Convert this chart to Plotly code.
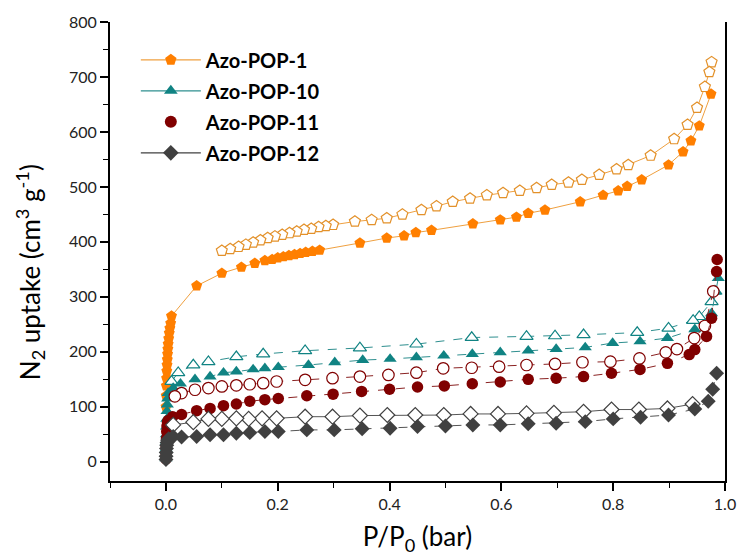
import plotly.graph_objects as go

# ---- N2 isotherms at 77 K: adsorption (filled) and desorption (open) ----
pop1_ads_p = [0.0002, 0.0005, 0.0008, 0.0012, 0.0016, 0.002, 0.0025, 0.003, 0.0035, 0.004,
              0.005, 0.006, 0.007, 0.0085, 0.01, 0.055, 0.1, 0.135, 0.159, 0.177, 0.19, 0.2,
              0.21, 0.22, 0.23, 0.24, 0.25, 0.262, 0.275, 0.347, 0.395, 0.426, 0.447, 0.475,
              0.549, 0.598, 0.627, 0.648, 0.678, 0.741, 0.782, 0.809, 0.825, 0.851, 0.899,
              0.925, 0.939, 0.954, 0.975]
pop1_ads_v = [100, 120, 138, 152, 165, 176, 186, 196, 205, 214, 224, 234, 243, 252, 265, 320,
              343, 354, 361, 366, 368, 371, 373, 375, 377, 379, 381, 383, 385, 398, 407, 411,
              417, 421, 433, 440, 445, 452, 458, 473, 485, 493, 501, 513, 540, 564, 584, 611, 669]
pop1_des_p = [0.976, 0.972, 0.964, 0.95, 0.933, 0.909, 0.867, 0.827, 0.806, 0.775, 0.744, 0.72,
              0.69, 0.663, 0.633, 0.603, 0.574, 0.544, 0.513, 0.484, 0.457, 0.423, 0.395, 0.368,
              0.338, 0.299, 0.286, 0.273, 0.26, 0.247, 0.234, 0.221, 0.208, 0.195, 0.182, 0.169,
              0.156, 0.143, 0.13, 0.115, 0.1]
pop1_des_v = [727, 709, 682, 644, 613, 587, 557, 540, 532, 522, 513, 508, 504, 498, 493, 489,
              485, 479, 473, 465, 458, 450, 443, 440, 437, 431, 429, 427, 424, 422, 419, 416,
              413, 410, 407, 403, 399, 395, 391, 387, 384]

pop10_ads_p = [0.0001, 0.0002, 0.0004, 0.0006, 0.0009, 0.0012, 0.0016, 0.002, 0.0025, 0.0032,
               0.004, 0.013, 0.026, 0.052, 0.079, 0.103, 0.126, 0.156, 0.177, 0.201, 0.255,
               0.302, 0.352, 0.401, 0.448, 0.497, 0.548, 0.598, 0.648, 0.698, 0.75, 0.799,
               0.848, 0.897, 0.946, 0.976, 0.984, 0.988]
pop10_ads_v = [6, 14, 24, 36, 50, 64, 78, 92, 104, 115, 125, 134, 142, 150, 155, 162, 164, 168,
               170, 172, 176, 181, 185, 187, 190, 193, 196, 199, 202, 205, 208, 216, 219, 225,
               241, 270, 310, 334]
pop10_des_p = [0.982, 0.976, 0.954, 0.943, 0.899, 0.843, 0.747, 0.696, 0.645, 0.547, 0.448,
               0.347, 0.249, 0.174, 0.126, 0.076, 0.049, 0.022, 0.01]
pop10_des_v = [310, 291, 264, 257, 243, 235, 231, 229, 228, 226, 214, 207, 202, 196, 191, 182,
               176, 162, 146]

pop11_ads_p = [0.0001, 0.0003, 0.0006, 0.001, 0.0015, 0.002, 0.003, 0.004, 0.012, 0.028, 0.055,
               0.079, 0.103, 0.126, 0.15, 0.177, 0.201, 0.252, 0.299, 0.35, 0.4, 0.45, 0.498,
               0.548, 0.598, 0.648, 0.698, 0.747, 0.797, 0.848, 0.897, 0.936, 0.946, 0.967,
               0.976, 0.985, 0.986]
pop11_ads_v = [5, 15, 28, 42, 55, 65, 72, 75, 82, 86, 93, 97, 102, 105, 110, 113, 115, 120, 123,
               128, 132, 136, 138, 142, 145, 150, 152, 155, 161, 168, 179, 195, 204, 228, 261,
               346, 368]
pop11_des_p = [0.979, 0.964, 0.945, 0.914, 0.894, 0.847, 0.795, 0.745, 0.696, 0.645, 0.596,
               0.547, 0.496, 0.448, 0.398, 0.347, 0.298, 0.249, 0.198, 0.174, 0.15, 0.126, 0.1,
               0.076, 0.052, 0.028, 0.016]
pop11_des_v = [310, 247, 225, 205, 199, 188, 182, 181, 178, 176, 173, 171, 170, 162, 158, 155,
               152, 149, 146, 143, 141, 139, 137, 134, 131, 125, 119]

pop12_ads_p = [0.0001, 0.0003, 0.0006, 0.001, 0.0015, 0.002, 0.003, 0.005, 0.013, 0.028, 0.055,
               0.079, 0.103, 0.126, 0.15, 0.177, 0.201, 0.252, 0.301, 0.351, 0.401, 0.45, 0.5,
               0.549, 0.598, 0.648, 0.698, 0.75, 0.8, 0.849, 0.899, 0.946, 0.97, 0.978, 0.985]
pop12_ads_v = [4, 10, 17, 24, 30, 35, 39, 42, 46, 45, 46, 49, 49, 52, 53, 55, 55, 58, 58, 60, 61,
               64, 65, 67, 67, 69, 70, 73, 78, 81, 85, 96, 110, 132, 161]
pop12_des_p = [0.942, 0.897, 0.846, 0.797, 0.747, 0.694, 0.645, 0.594, 0.545, 0.497, 0.446,
               0.396, 0.347, 0.298, 0.249, 0.198, 0.172, 0.148, 0.126, 0.1, 0.076, 0.049, 0.013]
pop12_des_v = [105, 97, 95, 95, 91, 89, 88, 87, 87, 85, 85, 85, 84, 82, 82, 79, 79, 78, 79, 78,
               78, 72, 67]

x_ticks = [0.0, 0.2, 0.4, 0.6, 0.8, 1.0]
x_tick_text = ["0.0", "0.2", "0.4", "0.6", "0.8", "1.0"]
y_ticks = [0, 100, 200, 300, 400, 500, 600, 700, 800]

names = ["Azo-POP-1", "Azo-POP-10", "Azo-POP-11", "Azo-POP-12"]
x_title = "P/P<sub>0</sub> (bar)"
y_title = "N<sub>2</sub> uptake (cm<sup>3</sup> g<sup>-1</sup>)"

series = [
    # name, ads p, ads v, des p, des v, symbol, fill colour, outline, line colour, dashes
    (names[0], pop1_ads_p, pop1_ads_v, pop1_des_p, pop1_des_v, "pentagon",
     "#FF7F00", "#E3912A", "#EFA040", "solid", "solid"),
    (names[1], pop10_ads_p, pop10_ads_v, pop10_des_p, pop10_des_v, "triangle-up",
     "#108383", "#108383", "#2E8F8F", "dash", "dash"),
    (names[2], pop11_ads_p, pop11_ads_v, pop11_des_p, pop11_des_v, "circle",
     "#800000", "#800000", "#8A2222", "dash", "dash"),
    (names[3], pop12_ads_p, pop12_ads_v, pop12_des_p, pop12_des_v, "diamond",
     "#404040", "#404040", "#555555", "dash", "solid"),
]

fig = go.Figure()

for name, ap, av, dp, dv, sym, fill, outline, lcol, adash, ddash in series:
    # desorption branch: open markers with white interior
    fig.add_trace(go.Scatter(
        x=dp, y=dv, mode="lines+markers", showlegend=False,
        line=dict(color=lcol, width=1, dash=ddash),
        marker=dict(symbol=sym, size=11.5, color="white",
                    line=dict(color=outline, width=1.2)),
    ))
    # adsorption branch: filled markers
    fig.add_trace(go.Scatter(
        x=ap, y=av, mode="lines+markers", showlegend=False,
        line=dict(color=lcol, width=1, dash=adash),
        marker=dict(symbol=sym, size=11.5, color=fill, line=dict(width=0)),
    ))

# legend entries
legend_modes = ["lines+markers", "lines+markers", "markers", "lines+markers"]
for i, (name, ap, av, dp, dv, sym, fill, outline, lcol, adash, ddash) in enumerate(series):
    fig.add_trace(go.Scatter(
        x=[None], y=[None], name=name, mode=legend_modes[i], legendgroup=name,
        line=dict(color=lcol if i != 3 else "#404040", width=1.2, dash="solid"),
        marker=dict(symbol=sym, size=12, color=fill, line=dict(width=0)),
    ))

axis_font = dict(family="Lato, 'Open Sans', sans-serif", size=16, color="#222222")
title_font = dict(family="Lato, 'Open Sans', sans-serif", size=26, color="black")

fig.update_layout(
    width=737, height=559,
    margin=dict(l=110, r=12, t=22, b=78),
    paper_bgcolor="white", plot_bgcolor="white",
    font=dict(family="Lato, 'Open Sans', sans-serif", color="black"),
    showlegend=True,
    legend=dict(
        x=0.042, y=0.96, xanchor="left", yanchor="top",
        bgcolor="rgba(0,0,0,0)", borderwidth=0,
        font=dict(family="Lato, 'Open Sans', sans-serif", size=20, color="black", weight="bold"),
        traceorder="grouped", tracegroupgap=2, itemwidth=60,
    ),
    xaxis=dict(
        range=[-0.1, 1.0], tickmode="array", tickvals=x_ticks, ticktext=x_tick_text,
        ticks="outside", ticklen=8, tickwidth=1.5, tickcolor="black",
        minor=dict(dtick=0.1, tick0=-0.1, ticks="outside", ticklen=5, tickwidth=1.2,
                   tickcolor="black", showgrid=False),
        showline=True, linecolor="black", linewidth=1.8, mirror=False,
        showgrid=False, zeroline=False, tickfont=axis_font, automargin=False,
        title=dict(text=x_title, standoff=16, font=title_font),
    ),
    yaxis=dict(
        range=[-35, 800], tickmode="array", tickvals=y_ticks,
        ticks="outside", ticklen=8, tickwidth=1.5, tickcolor="black",
        minor=dict(dtick=50, tick0=0, ticks="outside", ticklen=5, tickwidth=1.2,
                   tickcolor="black", showgrid=False),
        showline=True, linecolor="black", linewidth=1.8, mirror=True,
        showgrid=False, zeroline=False, tickfont=axis_font, automargin=False,
    ),
    annotations=[dict(
        text=y_title, textangle=-90, showarrow=False,
        xref="paper", yref="paper", x=-0.13, y=0.455,
        xanchor="center", yanchor="middle", font=title_font,
    )],
)

fig.write_html("out.html")
